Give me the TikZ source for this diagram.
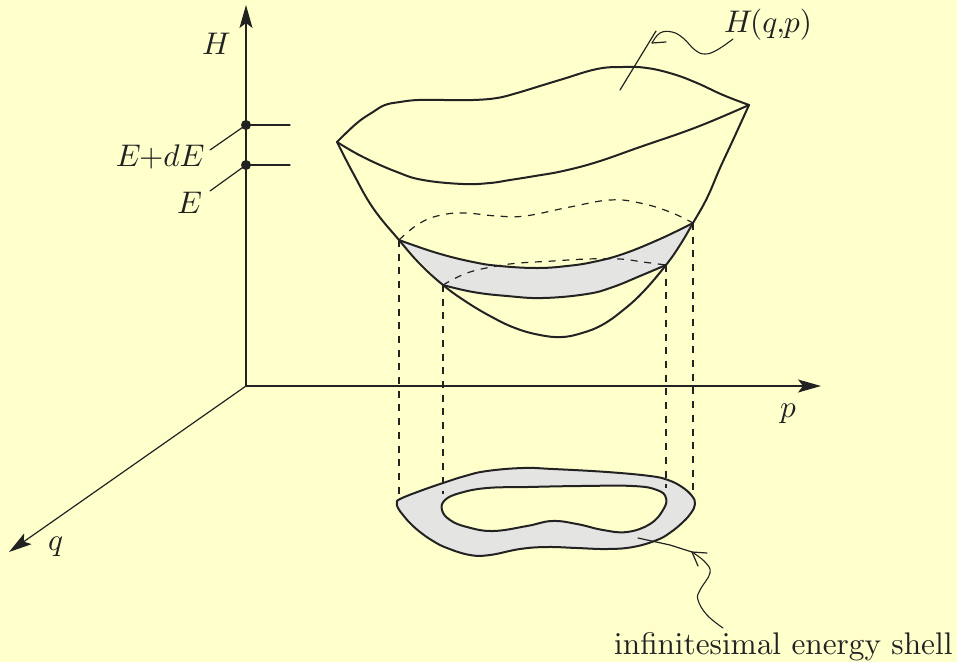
\documentclass[tikz,border=0pt]{standalone}
\usetikzlibrary{arrows.meta}
\definecolor{paper}{HTML}{FFFFCC}
\definecolor{ink}{HTML}{222222}
\definecolor{shell}{HTML}{E4E4E2}
\font\lblmi=cmmi10 at 31.3pt
\font\lblrm=cmr10 at 31.3pt
\tikzset{
  axisline/.style={ink,line width=1.2pt},
  axisarrow/.style={axisline,-{Stealth[length=23pt,width=13pt,inset=5pt]}},
  curve/.style={ink,line width=2pt,line join=round,line cap=round},
  hidden/.style={ink,line width=1.2pt,dash pattern=on 7pt off 6.7pt},
  lead/.style={ink,line width=1.2pt,line cap=round},
  thin lead/.style={ink,line width=1.1pt,line cap=round},
  label/.style={inner sep=0pt,text=ink},
  dotmark/.style={circle,fill=ink,inner sep=0pt,minimum size=10pt}
}
\begin{document}
\begin{tikzpicture}[x=1pt,y=-1pt]
\useasboundingbox[fill=paper] (0,0) rectangle (957,662);
% named places
\coordinate (O) at (246,386);
\coordinate (Htop) at (246,5);
\coordinate (Pend) at (821,386);
\coordinate (Qend) at (9,552);
\coordinate (A) at (399,240);
\coordinate (B) at (693,223);
\coordinate (C) at (443,285);
\coordinate (D) at (666,265);
\coordinate (A0) at (399,500);
\coordinate (B0) at (693,497);
\coordinate (C0) at (443,494);
\coordinate (D0) at (666,488);
% grey band
\fill[shell] plot[smooth,tension=.7] coordinates {(399,240)(437,253)(473,262)(500,266)(537,268)(567,266)(593,262)(623,254)(660,239)(693,223)}
  -- (666,265)
  -- plot[smooth,tension=.7] coordinates {(666,265)(640,276)(613,287)(587,294)(543,298)(507,296)(473,292)(443,285)}
  -- cycle;
% grey ring
\fill[shell,even odd rule]
  plot[smooth cycle,tension=.7] coordinates {(400,499)(420,491)(443,483)(465,476)(487,471)(523,468)(553,469)(607,472)(650,476)(668,480)(682,487)(692,496)(695,504)(691,513)(683,522)(671,532)(657,540)(633,547)(607,549)(577,548)(547,547)(520,549)(490,555)(470,555)(447,548)(433,541)(420,532)(410,523)(403,515)(398,508)(397,503)}
  plot[smooth cycle,tension=.7] coordinates {(442,510)(445,500)(460,493)(487,488)(527,487)(580,486)(633,486)(657,490)(666,498)(663,510)(650,524)(627,532)(603,530)(577,524)(552,521)(527,526)(493,531)(467,527)(450,520)};
% axes
\draw[axisarrow] (O) -- (Htop);
\draw[axisarrow] (O) -- (Pend);
\draw[axisarrow] (O) -- (Qend);
% energy marks
\node[dotmark] (dE2) at (246,125) {};
\node[dotmark] (dE1) at (246,165) {};
\coordinate (t2) at (290,125);
\coordinate (t1) at (290,165);
\coordinate (s2) at (210,150);
\coordinate (s1) at (210,191);
\draw[lead] (dE2.center) -- (t2);
\draw[lead] (dE1.center) -- (t1);
\draw[lead] (dE2.center) -- (s2);
\draw[lead] (dE1.center) -- (s1);
% surface
\draw[curve] plot[smooth,tension=.7] coordinates {(337,142)(357,123)(373,112)(385,105)(400,102)(418,100)(445,100)(473,100)(497,98)(517,93)(540,86)(563,79)(597,69)(623,67)(647,68)(673,74)(697,83)(723,95)(749,105)};
\draw[curve] plot[smooth,tension=.7] coordinates {(337,142)(363,157)(397,172)(423,180)(463,184)(490,183)(510,180)(535,176)(563,171)(597,162)(640,147)(697,127)(749,105)};
\draw[curve] plot[smooth,tension=.7] coordinates {(337,142)(353,173)(373,208)(399,240)(420,264)(443,285)(465,301)(490,316)(515,328)(540,335)(562,337)(582,333)(602,325)(622,311)(643,292)(666,265)(680,245)(693,223)(707,198)(720,168)(733,140)(749,105)};
\draw[curve] plot[smooth,tension=.7] coordinates {(399,240)(437,253)(473,262)(500,266)(537,268)(567,266)(593,262)(623,254)(660,239)(693,223)};
\draw[curve] plot[smooth,tension=.7] coordinates {(443,285)(473,292)(507,296)(543,298)(587,294)(613,287)(640,276)(666,265)};
% hidden level curves
\draw[hidden] plot[smooth,tension=.7] coordinates {(399,240)(417,225)(437,216)(463,213)(497,216)(525,216)(570,207)(610,200)(640,203)(670,212)(693,223)};
\draw[hidden] plot[smooth,tension=.7] coordinates {(443,285)(467,273)(497,266)(520,263)(553,261)(587,259)(620,259)(643,262)(666,265)};
% projections
\draw[hidden] (A) -- (A0);
\draw[hidden] (B) -- (B0);
\draw[hidden] (C) -- (C0);
\draw[hidden] (D) -- (D0);
% ring outlines
\draw[curve] plot[smooth cycle,tension=.7] coordinates {(400,499)(420,491)(443,483)(465,476)(487,471)(523,468)(553,469)(607,472)(650,476)(668,480)(682,487)(692,496)(695,504)(691,513)(683,522)(671,532)(657,540)(633,547)(607,549)(577,548)(547,547)(520,549)(490,555)(470,555)(447,548)(433,541)(420,532)(410,523)(403,515)(398,508)(397,503)};
\draw[curve] plot[smooth cycle,tension=.7] coordinates {(442,510)(445,500)(460,493)(487,488)(527,487)(580,486)(633,486)(657,490)(666,498)(663,510)(650,524)(627,532)(603,530)(577,524)(552,521)(527,526)(493,531)(467,527)(450,520)};
% labels
\node[label,anchor=base west] (lH) at (202,54) {\lblmi H};
\node[label,anchor=base east] (lEd) at (203,166) {\lblmi E\lblrm +\lblmi dE};
\node[label,anchor=base west] (lE) at (177,213) {\lblmi E};
\node[label,anchor=base west] (lq) at (48,550) {\lblmi q};
\node[label,anchor=base west] (lp) at (780,417) {\lblmi p};
\node[label,anchor=base west] (lHqp) at (724,32) {\lblmi H\lblrm (\lblmi q\lblrm ,\kern-1pt\lblmi p\lblrm )};
\node[label,anchor=base west] (lshell) at (614,654) {\lblrm infinitesimal energy shell};
% leader to the surface
\coordinate (h0) at (620,90);
\coordinate (h1) at (652,43);
\coordinate (h2) at (656,31);
\coordinate (h3) at (666,42);
\coordinate (h4) at (733,39);
\draw[lead] (h0) -- (h2);
\draw[lead] (h1) -- (h3);
\draw[thin lead] plot[smooth,tension=.7] coordinates {(h4)(717,50)(705,54)(695,50)(683,38)(672,32)(660,33)(h1)};
% leader to the shell
\coordinate (k0) at (638,538);
\coordinate (k1) at (692,552);
\coordinate (k2) at (707,553);
\coordinate (k3) at (698,566);
\coordinate (k4) at (723,628);
\draw[lead] (k0) -- (670,545) -- (k1) -- (k2);
\draw[lead] (k1) -- (k3);
\draw[thin lead] plot[smooth,tension=.7] coordinates {(k4)(707,615)(698,600)(700,590)(710,573)(705,562)(k1)};
\end{tikzpicture}
\end{document}
